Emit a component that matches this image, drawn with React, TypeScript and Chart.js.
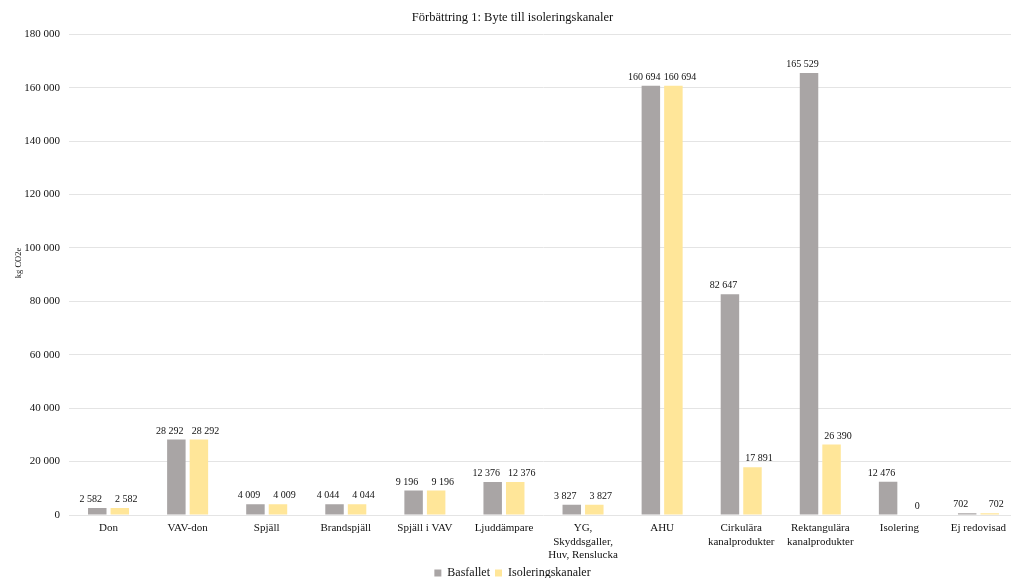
import React, { useEffect, useRef } from "react";
import { Chart, registerables } from "chart.js";

Chart.register(...registerables);

// Emission categories on the x axis (multi-line labels as arrays)
const categories: (string | string[])[] = [
  "Don",
  "VAV-don",
  "Spjäll",
  "Brandspjäll",
  "Spjäll i VAV",
  "Ljuddämpare",
  ["YG,", "Skyddsgaller,", "Huv, Renslucka"],
  "AHU",
  ["Cirkulära", "kanalprodukter"],
  ["Rektangulära", "kanalprodukter"],
  "Isolering",
  "Ej redovisad",
];

// kg CO2e per category
const basfallet = [2582, 28292, 4009, 4044, 9196, 12376, 3827, 160694, 82647, 165529, 12476, 702];
const isoleringskanaler = [2582, 28292, 4009, 4044, 9196, 12376, 3827, 160694, 17891, 26390, 0, 702];

const seriesNames = ["Basfallet", "Isoleringskanaler"];
const seriesColors = ["#A9A5A5", "#FFE699"];

const yMax = 180000;
const yStep = 20000;
const yTitle = "kg CO2e";

const FONT = "'Liberation Serif', 'Times New Roman', serif";
const TEXT = "#111111";

// Swedish-style thousands grouping: "160 694"
const fmt = (v: number) => String(Math.round(v)).replace(/\B(?=(\d{3})+(?!\d))/g, " ");

// Value labels above each bar, nudged outward from the pair's centre
const valueLabels = {
  id: "valueLabels",
  afterDatasetsDraw(chart: any) {
    const ctx = chart.ctx;
    ctx.save();
    ctx.font = `10px ${FONT}`;
    ctx.fillStyle = TEXT;
    ctx.textAlign = "center";
    ctx.textBaseline = "middle";
    chart.data.datasets.forEach((ds: any, i: number) => {
      const meta = chart.getDatasetMeta(i);
      const shift = i === 0 ? -6.5 : 6.5;
      meta.data.forEach((bar: any, j: number) => {
        ctx.fillText(fmt(ds.data[j]), bar.x + shift, bar.y - 8.5);
      });
    });
    ctx.restore();
  },
};

// Rotated y-axis caption
const axisCaption = {
  id: "axisCaption",
  afterDraw(chart: any) {
    const ctx = chart.ctx;
    ctx.save();
    ctx.font = `8.5px ${FONT}`;
    ctx.fillStyle = TEXT;
    ctx.textAlign = "center";
    ctx.textBaseline = "middle";
    ctx.translate(18.5, 263);
    ctx.rotate(-Math.PI / 2);
    ctx.fillText(yTitle, 0, 0);
    ctx.restore();
  },
};

export default function App() {
  const ref = useRef<HTMLCanvasElement | null>(null);

  useEffect(() => {
    if (!ref.current) return;
    const chart = new Chart(ref.current, {
      type: "bar",
      data: {
        labels: categories,
        datasets: [
          {
            label: seriesNames[0],
            data: basfallet,
            backgroundColor: seriesColors[0],
            barPercentage: 0.82,
            categoryPercentage: 0.57,
          },
          {
            label: seriesNames[1],
            data: isoleringskanaler,
            backgroundColor: seriesColors[1],
            barPercentage: 0.82,
            categoryPercentage: 0.57,
          },
        ],
      },
      options: {
        responsive: false,
        animation: false,
        maintainAspectRatio: false,
        layout: { padding: { left: 7, right: 6, top: 0, bottom: 0 } },
        plugins: {
          title: {
            display: true,
            text: "Förbättring 1: Byte till isoleringskanaler",
            color: TEXT,
            font: { family: FONT, size: 12.5, weight: "normal" },
            padding: { top: 10, bottom: 9.3 },
          },
          legend: {
            position: "bottom",
            labels: {
              color: TEXT,
              font: { family: FONT, size: 12 },
              boxWidth: 7,
              boxHeight: 7,
              padding: 5,
            },
          },
          tooltip: { enabled: false },
        },
        scales: {
          x: {
            grid: { display: false, drawTicks: false },
            border: { display: false },
            ticks: {
              color: TEXT,
              font: { family: FONT, size: 11 },
              padding: 7,
              maxRotation: 0,
              autoSkip: false,
            },
            afterFit: (s: any) => {
              s.height = 47;
            },
          },
          y: {
            min: 0,
            max: yMax,
            grid: { color: "#E4E4E4", drawTicks: false },
            border: { display: false },
            ticks: {
              stepSize: yStep,
              color: TEXT,
              font: { family: FONT, size: 11 },
              padding: 9,
              callback: (v: any) => fmt(Number(v)),
            },
            afterFit: (s: any) => {
              s.width = 62;
            },
          },
        },
      },
      plugins: [valueLabels, axisCaption],
    });
    return () => chart.destroy();
  }, []);

  return (
    <div style={{ position: "absolute", left: 0, top: 0, width: 1011, height: 578, overflow: "hidden", background: "#fff" }}>
      <canvas ref={ref} width={1024} height={589} style={{ display: "block", width: 1024, height: 589 }} />
    </div>
  );
}
